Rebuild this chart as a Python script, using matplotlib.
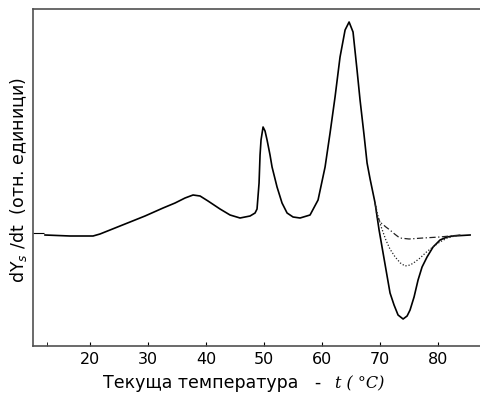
import matplotlib.pyplot as plt

# solid curve: temperature (C) vs dYs/dt (arbitrary units)
t_main = [12.24, 16.55, 20.52, 21.72, 23.45, 25.17, 26.90, 29.48, 32.59, 34.66,
          36.38, 37.76, 38.97, 40.34, 42.41, 44.14, 45.86, 47.59, 48.45, 48.79,
          49.14, 49.31, 49.48, 49.83, 50.17, 50.52, 51.03, 51.38, 52.24, 53.10,
          53.97, 55.00, 56.21, 57.93, 59.31, 60.52, 61.38, 62.24, 63.10, 63.97,
          64.66, 65.34, 66.03, 66.55, 67.24, 67.76, 68.28, 69.14, 69.83, 70.34,
          71.03, 71.72, 72.41, 73.10, 73.97, 74.66, 75.17, 75.86, 76.55, 77.24,
          78.10, 79.14, 80.34, 81.55, 82.59, 85.52]
y_main = [0, -1, -1, 1, 5, 9, 13, 19, 27, 32,
          37, 40, 39, 34, 26, 20, 17, 19, 22, 26,
          52, 80, 95, 108, 104, 95, 80, 68, 48, 32,
          22, 18, 17, 20, 35, 68, 102, 138, 178, 205,
          213, 203, 165, 135, 100, 72, 56, 32, 5, -12,
          -35, -58, -70, -80, -84, -81, -75, -62, -45, -32,
          -22, -12, -5, -2, -1, 0]

# dotted curve
t_dot = [69.14, 69.6, 70.2, 71.0, 71.7, 72.6, 73.5, 74.3, 75.2, 76.0,
         76.9, 78.0, 79.1, 80.3, 81.6, 82.9, 84.0]
y_dot = [32, 20, 8, -5, -14, -22, -28, -31, -30, -27,
         -23, -17, -12, -7, -3, -1, 0]

# dash-dot curve
t_dash = [69.14, 69.5, 70.2, 71.0, 71.7, 72.5, 73.4, 75.0, 77.4, 80.3, 82.9, 84.0]
y_dash = [32, 18, 12, 8, 5, 1, -3, -4, -3, -2, -0.5, 0]

xticks = [20, 30, 40, 50, 60, 70, 80]

fig = plt.figure(figsize=(4.81, 3.96), dpi=100)
ax = fig.add_axes([33/481, 1 - 346/396, 1 - 33/481, (346 - 9)/396])

ax.plot(t_main, y_main, color="black", lw=1.2)
ax.plot(t_dot, y_dot, color="#222222", lw=0.9, ls=(0, (1, 1.5)))
ax.plot(t_dash, y_dash, color="#222222", lw=0.9, ls=(0, (5, 2, 1, 2)))

ax.set_xlim(10.17, 87.4)
ax.set_ylim(-111, 226)
ax.set_xticks(xticks)
ax.set_xticks([12.6], minor=True)
ax.set_yticks([2])
ax.set_yticklabels([])
ax.tick_params(axis="x", which="both", direction="in", length=3, labelsize=11.5, pad=4)
ax.tick_params(axis="y", direction="in", length=8)
ax.spines["right"].set_visible(False)
for s in ["left", "top", "bottom"]:
    ax.spines[s].set_color("#505050")
    ax.spines[s].set_linewidth(1.2)

fig.text(103/481, 1 - 388/396, "Текуща температура   -", fontsize=12.5, va="baseline")
fig.text(335/481, 1 - 388/396, "t ( °C)", fontsize=11.5, va="baseline",
         family="DejaVu Serif", style="italic")
fig.text(19/481, 1 - 180/396, "dY$_s$ /dt  (отн. единици)", fontsize=12.5,
         rotation=90, ha="center", va="center")

fig.savefig("out.png", dpi=100)
